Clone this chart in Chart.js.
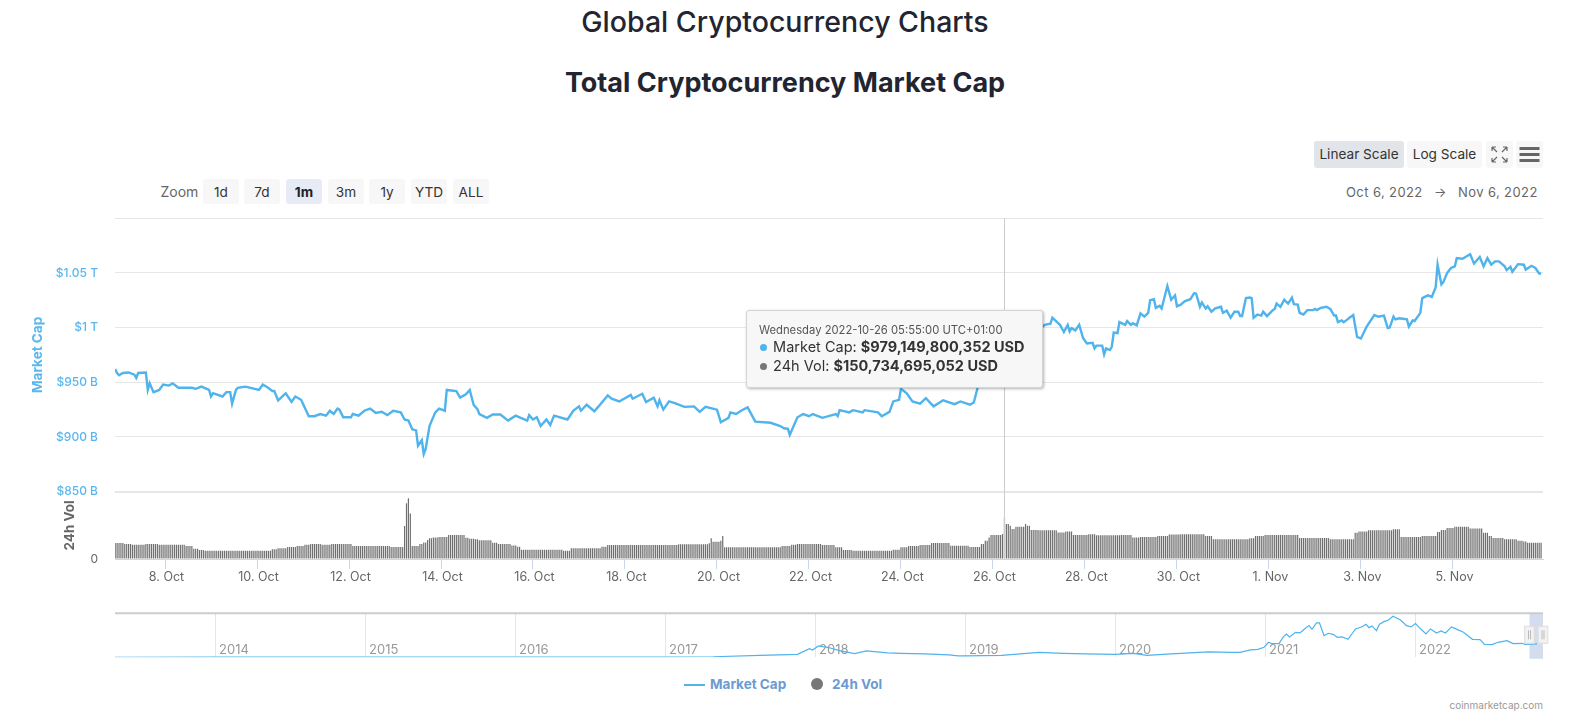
<!DOCTYPE html>
<html>
<head>
<meta charset="utf-8">
<title>Global Cryptocurrency Charts</title>
<script src="https://cdn.jsdelivr.net/npm/chart.js@4"></script>
<style>
    html, body { margin: 0; padding: 0; background: #fff; }
    body { width: 1581px; height: 727px; position: relative; overflow: hidden; font-family: Inter, sans-serif; color: #222531; }
    canvas { position: absolute; left: 0; }
    .abs { position: absolute; white-space: nowrap; }
    h1, h2 { position: absolute; left: 0; width: 1570px; margin: 0; text-align: center; color: #222531; }
    h1 { top: 5px; font-size: 28.5px; font-weight: 500; line-height: 34px; }
    h2 { top: 66px; font-size: 27px; font-weight: 700; line-height: 34px; }
    .btn { position: absolute; box-sizing: border-box; background: #f7f7f7; border-radius: 3px; text-align: center; font-size: 13.6px; color: #333; }
    .zoom { top: 179px; height: 25px; width: 36px; line-height: 27px; }
    .scale { top: 141px; height: 27px; line-height: 27px; }
    #tooltip { left: 746px; top: 310px; width: 297px; height: 78px; box-sizing: border-box; background: #f7f7f7; border: 1px solid #d4d4d4; border-radius: 3px; box-shadow: 1px 1px 3px rgba(0,0,0,0.3); z-index: 3; color: #333; }
    #tooltip div { position: absolute; left: 12px; }
    #tooltip i { display: inline-block; width: 7px; height: 7px; border-radius: 50%; margin: 0 2px 1px 1px; }
</style>
</head>
<body>
<h1>Global Cryptocurrency Charts</h1>
<h2>Total Cryptocurrency Market Cap</h2>

<div class="btn scale" style="left:1314px;width:90px;background:#e1e5ea">Linear Scale</div>
<div class="btn scale" style="left:1407px;width:75px">Log Scale</div>
<div class="btn scale" style="left:1486px;width:27px">
    <svg width="27" height="27" style="display:block" fill="none" stroke="#666" stroke-width="1.2">
        <path d="M6 6l5 5M6 6h4M6 6v4M21 6l-5 5M21 6h-4M21 6v4M6 21l5-5M6 21h4M6 21v-4M21 21l-5-5M21 21h-4M21 21v-4"/>
    </svg>
</div>
<div class="btn scale" style="left:1516px;width:27px">
    <svg width="27" height="27" style="display:block" fill="#666">
        <rect x="3.5" y="6" width="20" height="3"/><rect x="3.5" y="12" width="20" height="3"/><rect x="3.5" y="18" width="20" height="3"/>
    </svg>
</div>

<div class="abs" style="left:160.5px;top:183px;font-size:14px;line-height:18px;color:#666">Zoom</div>
<div class="btn zoom" style="left:203px">1d</div>
<div class="btn zoom" style="left:244px">7d</div>
<div class="btn zoom" style="left:286px;background:#e6ebf5;font-weight:700;color:#222">1m</div>
<div class="btn zoom" style="left:328px">3m</div>
<div class="btn zoom" style="left:369px">1y</div>
<div class="btn zoom" style="left:411px">YTD</div>
<div class="btn zoom" style="left:453px">ALL</div>

<div class="abs" style="left:1346px;top:183px;font-size:13px;line-height:18px;color:#666;letter-spacing:.4px">Oct 6, 2022</div>
<div class="abs" style="left:1434px;top:183px;font-size:13px;line-height:18px;color:#666">→</div>
<div class="abs" style="left:1458px;top:183px;font-size:13px;line-height:18px;color:#666;letter-spacing:.4px">Nov 6, 2022</div>

<canvas id="mainChart" width="1581" height="406" style="top:194px;width:1581px;height:406px"></canvas>
<canvas id="navChart" width="1581" height="60" style="top:605px;width:1581px;height:60px"></canvas>

<div id="tooltip" class="abs">
    <div style="top:12px;font-size:11.25px;line-height:14px;color:#555">Wednesday 2022-10-26 05:55:00 UTC+01:00</div>
    <div style="top:27px;font-size:14.5px;line-height:18px"><i style="background:#4fb3ec"></i> Market Cap: <b>$979,149,800,352 USD</b></div>
    <div style="top:46px;font-size:14.5px;line-height:18px"><i style="background:#777"></i> 24h Vol: <b>$150,734,695,052 USD</b></div>
</div>

<div class="abs" style="left:684px;top:683.5px;width:21px;height:2px;background:#4fb3ec"></div>
<div class="abs" style="left:710px;top:676px;font-size:13.5px;line-height:17px;font-weight:700;color:#6b9bd2">Market Cap</div>
<div class="abs" style="left:811px;top:678px;width:12px;height:12px;border-radius:50%;background:#777"></div>
<div class="abs" style="left:832px;top:676px;font-size:13.5px;line-height:17px;font-weight:700;color:#6b9bd2">24h Vol</div>
<div class="abs" style="right:38px;top:698px;font-size:10px;line-height:14px;color:#999">coinmarketcap.com</div>

<script>
// Hours are counted from 8 Oct 2022 00:00, values are in billions of USD
const capHours = [-26,-25,-24,-22,-19,-16,-15,-14,-10,-9,-8,-6,-3,-1,2,4,7,14,16,19,23,24,25,30,32,34,35,37,38,42,49,51,53,56,57,59,63,66,68,71,73,75,78,81,84,86,88,90,91,93,97,98,101,104,107,110,113,116,119,123,125,127,129,131,132,134,135,136,138,141,143,146,147,152,154,157,159,161,163,164,168,171,175,179,183,185,189,190,192,194,196,199,201,203,210,213,216,217,220,224,226,231,233,237,243,244,249,251,255,257,258,260,263,266,271,276,279,282,288,290,294,295,298,301,304,308,316,321,323,325,326,328,330,333,336,338,343,350,351,352,357,359,364,365,372,374,378,380,383,384,387,390,394,397,401,406,412,415,420,422,424,428,432,435,438,445,451,456,459,462,463,466,467,469,471,472,473,475,477,479,481,484,485,486,489,490,491,493,494,495,497,498,501,502,504,505,507,509,511,513,514,516,517,519,520,523,525,527,528,530,532,535,537,538,540,541,543,544,546,548,551,552,554,556,558,560,561,562,564,566,567,568,570,572,573,575,578,579,580,582,584,586,588,589,591,592,594,596,599,600,601,603,606,608,610,611,612,614,615,617,618,620,622,624,627,631,633,636,638,639,641,642,644,648,649,651,652,655,656,659,661,663,664,666,667,669,671,673,674,677,681,683,686,688,690,692,694,696,699,700,702,703,706,709,710,713,715,717,718];
const capValues = [962,958.5,956.5,958.5,959,957,954,958.5,959,943,949,941,943,948,947,949,945,945,944,946,943,937,940,937,941,941,930.5,943,945,946,943,948,946,942,942,933.5,940,932,937,934,926.5,919,919,921,919.5,924,921,926,925,918,918,921,919.5,924,926,922,923,920,924,922.5,916,915,907,906,892,897,884.5,889,910,922.5,926,924,943,942,936,939,943,929.5,925.5,921,917.5,920.5,920.5,915,919.5,918,915,920,916,918,910,916,911,919.5,916,924,928,924,929.5,923.5,927.5,938,935,932.5,938.5,935,939.5,932,936,928,933.5,925,932.5,931,927.5,928,923,927.5,925,913.5,917.5,922.5,921,924.5,927,914,913,910,908,907.5,902,910,918,921,919,921,917.5,921,919,924.5,922.5,924.5,922.5,924.5,922.5,919,923,932.5,934,944,940,932.5,930.5,935.5,928,933.5,930,932.5,929.5,931.5,945,955,966,975,979,985,992,998,1002.5,1003.5,1009,1004,1002.5,996,1002.5,996.5,999.5,997.5,1002.5,990.5,985.5,986,981,983.5,983.5,975.5,981,979.5,982.5,995.5,995,1005,1002.5,1006,1002.5,1004,1002,1013,1010,1013.5,1025,1026,1018,1020,1017.5,1038,1025.5,1029.5,1019.5,1021,1024,1026,1031.5,1031,1019,1023,1017.5,1019.5,1014.5,1017.5,1019,1013.5,1015.5,1009,1014.5,1014.5,1010.5,1010.5,1027,1027.5,1027,1009,1012,1011,1014.5,1010.5,1016,1017,1022,1019,1025.5,1022,1027.5,1021.5,1021,1013.5,1012,1016,1016,1017,1016,1018,1019,1017,1011,1011,1005,1006.5,1005,1007.5,1009,1011.5,991.5,990,1001,1011.5,1010,1011,999.5,1000,1010,1007.5,1008.5,1007.5,1001,1006.5,1006,1013.5,1027,1029.5,1028,1037,1057.5,1039.5,1041.5,1050,1054.5,1056,1063.5,1063,1067,1058.5,1064.5,1056,1063.5,1057.5,1060.5,1060.5,1056,1052.5,1055.5,1051,1058,1057.5,1053,1056.5,1054.5,1049.5,1049.5];

// Volume holds one level from each start hour until the next start hour
const volStarts = [-26,-21,-17,-10,-3,11,15,18,21,56,59,64,69,73,76,82,87,98,118,125,126,127,128,129,133,135,137,138,140,143,148,157,159,162,164,171,174,181,184,186,208,212,228,231,268,284,285,286,289,290,291,292,322,327,330,343,350,354,359,380,384,388,394,400,410,420,426,428,430,431,437,438,439,441,442,444,449,450,452,456,466,470,474,482,486,499,505,509,518,524,530,543,547,566,569,574,592,608,621,623,628,641,645,656,664,666,669,673,681,688,691,693,699,706,709,711];
const volLevels = [58,54,51,54,51,47,37,32.5,30,35,38.5,43,47,51,54,51,54,47,43,119,201,219,164,47,54,60,69,75,78,79.5,87,77,73.5,71,67.5,59,54,49,44.5,33.5,30,38.5,44.5,50.5,53,57,75,62.5,62,66,83,42,47,51,54,50.5,42,32.5,30,33.5,42,47,50.5,58,48,43.5,54,66,78,87,90,150.7,126,120,108,116,126,120,105,103.5,96,99,87,89,85.5,87,78,79.5,83,88,89,83,71,75,83,87,76,71,95,99,103.5,107,79.5,83,97.5,105,112,116,110,95,83,76,71,66,63,59];
const lastVolHour = 718;

const capTicks = [850, 900, 950, 1000, 1050, 1100];
const capTickLabels = ['$850 B', '$900 B', '$950 B', '$1 T', '$1.05 T', ''];
const dateTickHours = [0, 48, 96, 144, 192, 240, 288, 336, 384, 432, 480, 528, 576, 624, 672];
const dateTickLabels = ['8. Oct', '10. Oct', '12. Oct', '14. Oct', '16. Oct', '18. Oct', '20. Oct', '22. Oct', '24. Oct', '26. Oct', '28. Oct', '30. Oct', '1. Nov', '3. Nov', '5. Nov'];
const hoverHour = 437.9;

// Navigator overview, years against billions of USD
const navYears = [2013.33,2014,2015,2016,2017,2017.32,2017.63,2017.88,2017.96,2017.98,2018.02,2018.08,2018.16,2018.26,2018.34,2018.48,2018.57,2018.73,2018.89,2018.95,2019,2019.24,2019.49,2019.65,2019.8,2020,2020.12,2020.21,2020.37,2020.56,2020.62,2020.78,2020.83,2020.9,2020.95,2020.99,2021.02,2021.04,2021.09,2021.12,2021.14,2021.16,2021.2,2021.23,2021.26,2021.29,2021.31,2021.34,2021.36,2021.39,2021.42,2021.45,2021.48,2021.51,2021.55,2021.6,2021.64,2021.67,2021.69,2021.71,2021.74,2021.76,2021.79,2021.82,2021.85,2021.9,2021.94,2021.97,2022,2022.03,2022.07,2022.1,2022.14,2022.17,2022.2,2022.24,2022.28,2022.32,2022.38,2022.43,2022.46,2022.51,2022.55,2022.61,2022.65,2022.71,2022.73,2022.81];
const navValues = [2,8,6,7,18,40,140,210,620,520,810,714,476,262,452,310,286,238,167,95,95,143,357,286,238,214,286,143,238,350,381,357,357,524,571,714,1071,976,976,1476,1666,1452,1785,1737,2023,2261,2000,2451,2451,1547,1714,1642,1428,1452,1285,2023,2166,2356,2118,2237,1904,2356,2547,2666,2927,2666,2261,2166,2404,2070,1666,2023,1737,1880,1737,2166,1975,1785,1285,1261,928,904,1071,1190,976,1000,928,952];
const navYearTicks = [2014, 2015, 2016, 2017, 2018, 2019, 2020, 2021, 2022];
const navRange = [2022.76, 2022.85];

const capColor = '#4fb3ec';
const gridColor = '#e6e6e6';
const uiFont = 'Inter, sans-serif';

const volBars = [];
for (let h = volStarts[0]; h <= lastVolHour; h++) {
    let level = 0;
    volStarts.forEach((start, i) => {
        if (start <= h) level = volLevels[i];
    });
    volBars.push({ x: h, y: level });
}

// Vertical crosshair at the hovered point
const crosshair = {
    id: 'crosshair',
    afterDatasetsDraw(chart) {
        const { ctx, chartArea, scales } = chart;
        const x = Math.round(scales.x.getPixelForValue(hoverHour)) + 0.5;
        ctx.save();
        ctx.strokeStyle = '#cccccc';
        ctx.lineWidth = 1;
        ctx.beginPath();
        ctx.moveTo(x, chartArea.top);
        ctx.lineTo(x, chartArea.bottom);
        ctx.stroke();
        ctx.restore();
    }
};

new Chart(document.getElementById('mainChart'), {
    data: {
        datasets: [
            {
                type: 'line',
                label: 'Market Cap',
                data: capHours.map((h, i) => ({ x: h, y: capValues[i] })),
                yAxisID: 'y',
                borderColor: capColor,
                borderWidth: 2.4,
                pointRadius: 0,
                tension: 0
            },
            {
                type: 'bar',
                label: '24h Vol',
                data: volBars,
                yAxisID: 'yVol',
                backgroundColor: '#6f6f6f',
                barThickness: 1.2,
                inflateAmount: 0,
                borderWidth: 0
            }
        ]
    },
    options: {
        responsive: false,
        animation: false,
        devicePixelRatio: 1,
        layout: { padding: { top: 12.8, right: 38, left: 0, bottom: 0 } },
        plugins: { legend: { display: false }, tooltip: { enabled: false } },
        scales: {
            x: {
                type: 'linear',
                min: -26.1,
                max: 719,
                offset: false,
                afterBuildTicks(scale) { scale.ticks = dateTickHours.map(value => ({ value })); },
                afterFit(scale) { scale.height = 41; },
                border: { color: '#ccd6eb' },
                grid: { offset: false, drawOnChartArea: false, color: '#ccd6eb', tickLength: 10 },
                ticks: {
                    padding: 1,
                    labelOffset: 1.5,
                    maxRotation: 0,
                    color: '#666',
                    font: { family: uiFont, size: 12.5 },
                    callback: value => dateTickLabels[dateTickHours.indexOf(value)]
                }
            },
            y: {
                position: 'left',
                stack: 'panes',
                stackWeight: 273.4,
                weight: 2,
                min: 850,
                max: 1100,
                afterBuildTicks(scale) { scale.ticks = capTicks.map(value => ({ value })); },
                afterFit(scale) { scale.width = 115; },
                border: { display: false },
                grid: { color: gridColor, drawTicks: false, lineWidth: c => (c.tick && c.tick.value === 850 ? 2 : 1) },
                ticks: {
                    padding: 17,
                    color: '#5ab7ee',
                    font: { family: uiFont, size: 12, weight: '500' },
                    callback: value => capTickLabels[capTicks.indexOf(value)]
                },
                title: {
                    display: true,
                    text: 'Market Cap',
                    color: '#5ab7ee',
                    font: { family: uiFont, size: 13.5, weight: '700' },
                    padding: { top: 30, bottom: 0 }
                }
            },
            yVol: {
                position: 'left',
                stack: 'panes',
                stackWeight: 67.3,
                weight: 1,
                min: 0,
                max: 243,
                afterBuildTicks(scale) { scale.ticks = [{ value: 0 }]; },
                afterFit(scale) { scale.width = 115; },
                border: { display: false },
                grid: { drawOnChartArea: false, drawTicks: false },
                ticks: {
                    padding: 17,
                    color: '#666',
                    font: { family: uiFont, size: 12 }
                },
                title: {
                    display: true,
                    text: '24h Vol',
                    color: '#666',
                    font: { family: uiFont, size: 13.5, weight: '700' },
                    padding: { top: 62, bottom: 0 }
                }
            }
        }
    },
    plugins: [crosshair]
});

// Selected range, handles and year labels of the navigator
const navDecor = {
    id: 'navDecor',
    beforeDatasetsDraw(chart) {
        const { ctx, chartArea, scales } = chart;
        const x1 = scales.x.getPixelForValue(navRange[0]);
        const x2 = scales.x.getPixelForValue(navRange[1]);
        ctx.save();
        ctx.fillStyle = 'rgba(102, 133, 194, 0.28)';
        ctx.fillRect(x1, chartArea.top, x2 - x1, chartArea.bottom - chartArea.top + 1.5);
        ctx.strokeStyle = '#cccccc';
        ctx.lineWidth = 2;
        ctx.beginPath();
        ctx.moveTo(chartArea.left, chartArea.top);
        ctx.lineTo(chartArea.right, chartArea.top);
        ctx.stroke();
        ctx.fillStyle = '#999';
        ctx.font = '13px ' + uiFont;
        ctx.textBaseline = 'middle';
        navYearTicks.forEach(year => {
            ctx.fillText(String(year), scales.x.getPixelForValue(year) + 3.5, chartArea.top + 36.5);
        });
        ctx.restore();
    },
    afterDatasetsDraw(chart) {
        const { ctx, chartArea, scales } = chart;
        const handleY = chartArea.top + 13;
        [navRange[0], navRange[1]].forEach(value => {
            const x = scales.x.getPixelForValue(value);
            ctx.save();
            ctx.fillStyle = '#f2f2f2';
            ctx.strokeStyle = '#dddddd';
            ctx.lineWidth = 1;
            ctx.fillRect(x - 4.8, handleY, 9.6, 17);
            ctx.strokeRect(x - 4.8, handleY, 9.6, 17);
            ctx.strokeStyle = '#bbbbbb';
            ctx.beginPath();
            ctx.moveTo(x - 1, handleY + 4);
            ctx.lineTo(x - 1, handleY + 13);
            ctx.moveTo(x + 1, handleY + 4);
            ctx.lineTo(x + 1, handleY + 13);
            ctx.stroke();
            ctx.restore();
        });
    }
};

new Chart(document.getElementById('navChart'), {
    type: 'line',
    data: {
        datasets: [{
            label: 'Overview',
            data: navYears.map((year, i) => ({ x: year, y: navValues[i] })),
            borderColor: capColor,
            borderWidth: 1.2,
            pointRadius: 0,
            tension: 0
        }]
    },
    options: {
        responsive: false,
        animation: false,
        devicePixelRatio: 1,
        layout: { padding: { top: 8.3, right: 38, left: 115, bottom: 7.7 } },
        plugins: { legend: { display: false }, tooltip: { enabled: false } },
        scales: {
            x: {
                type: 'linear',
                min: 2013.33,
                max: 2022.85,
                afterBuildTicks(scale) { scale.ticks = navYearTicks.map(value => ({ value })); },
                border: { display: false },
                grid: { color: gridColor, drawTicks: false },
                ticks: { display: false }
            },
            y: {
                display: false,
                min: 0,
                max: 3140
            }
        }
    },
    plugins: [navDecor]
});
</script>
</body>
</html>
